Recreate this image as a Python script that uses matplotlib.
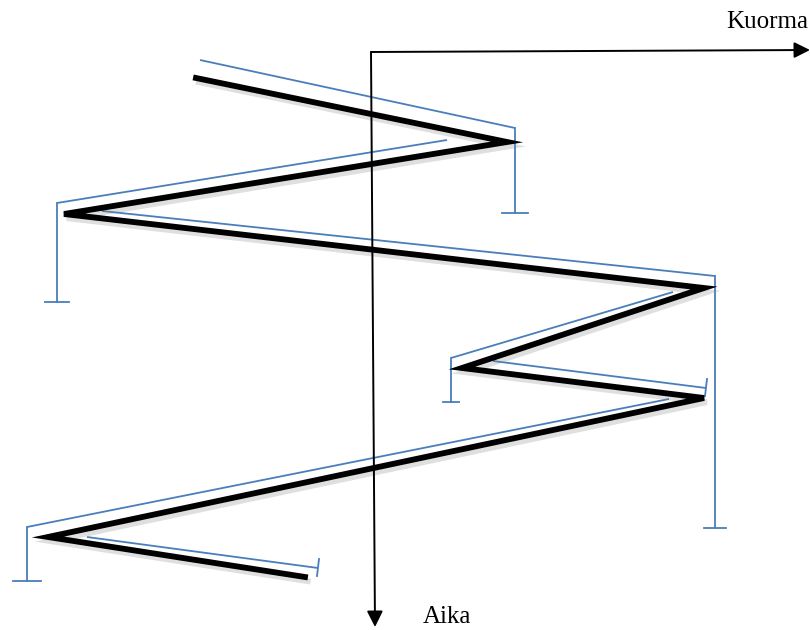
import matplotlib
matplotlib.use("Agg")
import matplotlib.pyplot as plt
import matplotlib.patheffects as pe

# load history (Kuorma = load, Aika = time), origin at axis corner
load = [-175, 136, -307, 333, 91, 333, -323, -66]
time = [26, 90, 162, 236, 316, 346, 485, 525]

# rainflow "drops": start load/time, end load/time, time where flow stops
flow_l0 = [-171, 76, -269, 302, 122, 298, -284]
flow_t0 = [8, 88, 159, 240, 309, 347, 485]
flow_l1 = [144, -314, 344, 80, 335, -344, -53]
flow_t1 = [76, 151, 224, 306, 336, 475, 516]
flow_stop = [161, 250, 476, 350, None, 529, None]
tick_half = [13, 12, 11, 8, 0, 14, 0]

BLUE = "#4A7EBB"

fig = plt.figure(figsize=(8.1, 6.3), dpi=100)
ax = fig.add_axes([0, 0, 1, 1])
ax.set_xlim(-371, 439)
ax.set_ylim(578, -52)
ax.axis("off")

# rainflow lines
for i in range(len(flow_l0)):
    ax.plot([flow_l0[i], flow_l1[i]], [flow_t0[i], flow_t1[i]],
            color=BLUE, lw=1.3, solid_capstyle="butt")
    if flow_stop[i] is not None:
        ax.plot([flow_l1[i], flow_l1[i]], [flow_t1[i], flow_stop[i]],
                color=BLUE, lw=1.3)
        h = tick_half[i]
        ax.plot([flow_l1[i] - h, flow_l1[i] + h], [flow_stop[i]] * 2,
                color=BLUE, lw=1.3)
    else:
        # small end tick across the line end
        ax.plot([flow_l1[i] + 1, flow_l1[i] - 1],
                [flow_t1[i] - 9, flow_t1[i] + 8], color=BLUE, lw=1.3)

# load history with soft shadow
ax.plot(load, time, color="black", lw=4.2, solid_joinstyle="miter",
        path_effects=[pe.SimpleLineShadow(offset=(2, -3), alpha=0.25, shadow_color="gray"),
                      pe.Normal()], zorder=3)

# axes arrows
ax.annotate("", xy=(439, -2), xytext=(0, 0), annotation_clip=False,
            arrowprops=dict(arrowstyle="-|>", color="black", lw=1.4,
                            mutation_scale=24, shrinkA=0, shrinkB=0))
ax.annotate("", xy=(4, 575), xytext=(0, 0), annotation_clip=False,
            arrowprops=dict(arrowstyle="-|>", color="black", lw=1.4,
                            mutation_scale=24, shrinkA=0, shrinkB=0), zorder=4)

ax.text(437, -24, "Kuorma", ha="right", va="baseline",
        fontsize=18, family="Liberation Serif")
ax.text(52, 571, "Aika", ha="left", va="baseline",
        fontsize=18, family="Liberation Serif")

fig.savefig("out.png", dpi=100)
